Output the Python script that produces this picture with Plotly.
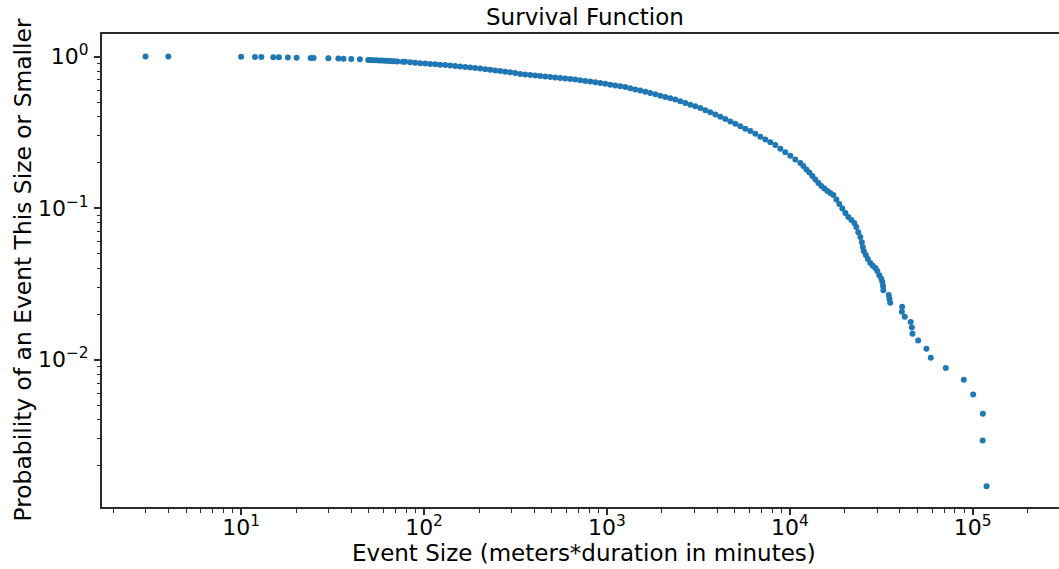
import plotly.graph_objects as go

# ---- data (event size, survival probability) ----
event_size = [
    3, 4, 10, 11.9, 12.9, 15, 16.1, 18, 20.1, 24, 24.9, 30, 34, 36.3, 40, 44.6,
    49.5, 51, 53, 55, 57, 59, 61, 63, 65, 67, 69, 71.5,
    76.5, 78.9, 84.0, 89.5, 95.3, 101.5, 108.1, 115.1, 122.6, 130.6, 139.1,
    148.1, 157.7, 168.0, 178.9, 190.5, 202.9, 216.1, 230.1, 245.1, 261.0,
    278.0, 296.0, 315.3, 335.8, 357.6, 380.8, 405.6, 432.0, 460.0, 489.9,
    521.8, 555.7, 591.8, 630.3, 671.2, 714.9, 761.3, 810.8, 863.5, 919.7,
    979.5, 1043, 1111, 1183, 1260, 1342, 1429, 1522, 1621, 1726,
    1839, 1958, 2085, 2221, 2365, 2519, 2683, 2857, 3043, 3241,
    3451, 3676, 3915, 4169, 4440, 4729, 5036, 5364, 5712, 6084,
    6479, 6900, 7349, 7826, 8335, 8877, 9454, 10070, 10720, 11420,
    11860, 12320, 12790, 13280, 13790, 14330, 14880, 15450, 16050, 16660,
    17300, 17970, 18660, 19380, 20130, 20900, 21710, 22540, 23100, 23690,
    24300, 24760, 25080, 25400, 26040, 26710, 27560, 28450, 29360, 30110,
    30870, 31660, 32060, 32350, 32470,
    34750, 35070, 35400, 41140, 41000, 42520, 45810, 46500, 46860, 50350,
    55870, 59000, 71290, 89380, 100600, 113600, 113400, 119100,
]
survival = [
    1.0, 0.9985, 0.996, 0.994, 0.992, 0.990, 0.988, 0.986, 0.981, 0.978, 0.976, 0.973, 0.970, 0.967, 0.962, 0.959,
    0.950, 0.948, 0.946, 0.944, 0.942, 0.940, 0.938, 0.936, 0.934, 0.932, 0.930, 0.928,
    0.925, 0.922, 0.916, 0.909, 0.904, 0.898, 0.894, 0.888, 0.883, 0.878, 0.872,
    0.866, 0.859, 0.852, 0.846, 0.840, 0.832, 0.825, 0.817, 0.810, 0.802,
    0.794, 0.786, 0.777, 0.768, 0.760, 0.755, 0.749, 0.744, 0.738, 0.732,
    0.727, 0.721, 0.716, 0.710, 0.705, 0.698, 0.690, 0.683, 0.676, 0.668,
    0.660, 0.652, 0.645, 0.637, 0.629, 0.618, 0.606, 0.596, 0.585, 0.574,
    0.563, 0.552, 0.541, 0.531, 0.520, 0.507, 0.494, 0.481, 0.469, 0.457,
    0.442, 0.428, 0.414, 0.400, 0.387, 0.373, 0.3595, 0.3467, 0.3343, 0.3222,
    0.3089, 0.2960, 0.2837, 0.2718, 0.2604, 0.2466, 0.2335, 0.2211, 0.2093, 0.1982,
    0.1893, 0.1795, 0.1715, 0.1627, 0.1542, 0.1462, 0.1397, 0.1345, 0.1295, 0.1256,
    0.1218, 0.1138, 0.1063, 0.0993, 0.0927, 0.0872, 0.0833, 0.0796, 0.0749, 0.0694,
    0.0644, 0.0596, 0.0553, 0.0520, 0.0490, 0.0461, 0.0434, 0.0417, 0.0402, 0.0384,
    0.0361, 0.0342, 0.0325, 0.0306, 0.0287,
    0.0267, 0.0251, 0.0237, 0.0223, 0.0207, 0.0192, 0.0177, 0.0163, 0.0148, 0.0134,
    0.0118, 0.0103, 0.0088, 0.00736, 0.00589, 0.0044, 0.00293, 0.00146,
]

x_tick_vals = [10, 100, 1000, 10000, 100000]
x_tick_text = ["10<sup>1</sup>", "10<sup>2</sup>", "10<sup>3</sup>", "10<sup>4</sup>", "10<sup>5</sup>"]
y_tick_vals = [0.01, 0.1, 1]
y_tick_text = ["10<sup>\u22122</sup>", "10<sup>\u22121</sup>", "10<sup>0</sup>"]

title_text = "Survival Function"
x_label = "Event Size (meters*duration in minutes)"
y_label = "Probability of an Event This Size or Smaller"

x_minor = [m * 10 ** e for e in range(0, 6) for m in range(2, 10)]
y_minor = [m * 10.0 ** e for e in range(-3, 0) for m in range(2, 10)]

FONT = "DejaVu Sans"
AX = "#2b2b2b"

fig = go.Figure()
fig.add_trace(go.Scatter(
    x=event_size, y=survival, mode="markers",
    marker=dict(color="#1f77b4", size=6, line=dict(width=0)),
    hoverinfo="x+y",
))

axis_common = dict(
    type="log", showgrid=False, zeroline=False,
    showline=True, linecolor=AX, linewidth=2,
    ticks="outside", ticklen=6, tickwidth=1.5, tickcolor=AX,
    tickmode="array",
)

fig.update_layout(
    width=1059, height=569,
    margin=dict(l=102, r=0, t=34, b=62),
    plot_bgcolor="white", paper_bgcolor="white",
    showlegend=False,
    xaxis=dict(
        **axis_common,
        range=[0.2392, 5.472],
        tickvals=x_tick_vals, ticktext=x_tick_text,
        tickfont=dict(family=FONT, size=22, color="black"),
        ticklabelstandoff=-6,
        mirror=True,
        minor=dict(tickmode="array", tickvals=x_minor, ticks="outside",
                   ticklen=3.5, tickwidth=1.2, tickcolor=AX, showgrid=False),
    ),
    yaxis=dict(
        **axis_common,
        range=[-2.972, 0.1485],
        tickvals=y_tick_vals, ticktext=y_tick_text,
        tickfont=dict(family=FONT, size=22, color="black"),
        ticklabelstandoff=1,
        minor=dict(tickmode="array", tickvals=y_minor, ticks="outside",
                   ticklen=3.5, tickwidth=1.2, tickcolor=AX, showgrid=False),
    ),
    annotations=[
        dict(text=title_text, xref="paper", yref="paper", x=(585 - 102) / 957, y=1 + (34 - 17) / 473,
             xanchor="center", yanchor="middle", showarrow=False,
             font=dict(family=FONT, size=23, color="black")),
        dict(text=x_label, xref="paper", yref="paper", x=(584 - 102) / 957, y=(507 - 553) / 473,
             xanchor="center", yanchor="middle", showarrow=False,
             font=dict(family=FONT, size=23, color="black")),
        dict(text=y_label, xref="paper", yref="paper", x=(22 - 102) / 957, y=0.5,
             xanchor="center", yanchor="middle", showarrow=False, textangle=-90,
             font=dict(family=FONT, size=23.4, color="black")),
    ],
)

fig.write_html("out.html")
